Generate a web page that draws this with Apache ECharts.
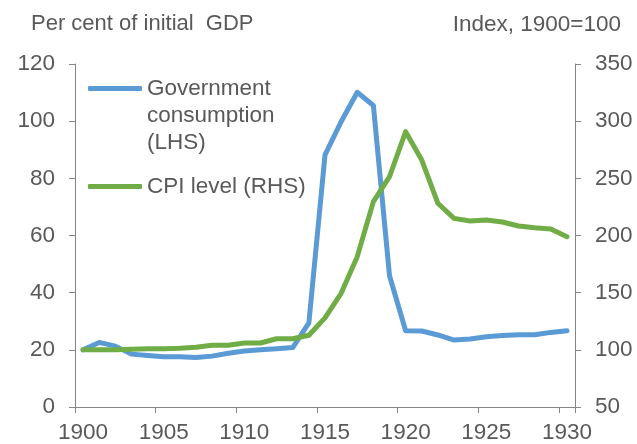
<!DOCTYPE html>
<html>
<head>
<meta charset="utf-8">
<script src="https://cdn.jsdelivr.net/npm/echarts@6/dist/echarts.min.js"></script>
<style>
  html, body { margin: 0; padding: 0; background: #fff; }
  #chart { width: 637px; height: 444px; }
</style>
</head>
<body>
<div id="chart"></div>
<script>
const years = ["1900", "1901", "1902", "1903", "1904", "1905", "1906", "1907", "1908", "1909",
  "1910", "1911", "1912", "1913", "1914", "1915", "1916", "1917", "1918", "1919",
  "1920", "1921", "1922", "1923", "1924", "1925", "1926", "1927", "1928", "1929", "1930"];

// per cent of initial GDP (LHS)
const govConsumption = [20, 22.6, 21.3, 18.5, 18, 17.6, 17.6, 17.3, 17.8, 18.8,
  19.6, 20, 20.4, 20.8, 29.4, 88.2, 99.8, 110.1, 105.5, 45.9,
  26.7, 26.6, 25.2, 23.4, 23.8, 24.6, 25, 25.3, 25.3, 26.1, 26.7];

// index, 1900=100 (RHS)
const cpiLevel = [100, 100, 100, 100.5, 101, 101, 101.3, 102.2, 104, 104,
  106, 106, 109.7, 109.7, 112.7, 128, 149.4, 181.5, 229.6, 251.4,
  290.8, 266, 228.2, 215, 212.7, 213.5, 211.8, 208.3, 206.8, 205.7, 199];

const chart = echarts.init(document.getElementById("chart"));

const font = "Liberation Sans";
const textColor = "#595959";
const axisColor = "#868686";
const fontSize = 22.5;

const axisCommon = {
  axisLine: { show: true, lineStyle: { color: axisColor, width: 1 } },
  axisTick: { show: true, length: 6, lineStyle: { color: axisColor } },
  splitLine: { show: false },
  axisLabel: { color: textColor, fontSize: fontSize, fontFamily: font },
};

chart.setOption({
  animation: false,
  textStyle: { fontFamily: font },
  title: [
    {
      text: "Per cent of initial  GDP",
      left: 31,
      top: 13,
      padding: 0,
      textStyle: { color: textColor, fontSize: 22, fontWeight: "normal", fontFamily: font },
    },
    {
      text: "Index, 1900=100",
      right: 16,
      top: 13,
      padding: 0,
      textStyle: { color: textColor, fontSize: fontSize, fontWeight: "normal", fontFamily: font },
    },
  ],
  grid: { left: 75, right: 62, top: 64, bottom: 36 },
  legend: {
    orient: "vertical",
    left: 83,
    top: 16,
    padding: 5,
    icon: "roundRect",
    itemWidth: 54,
    itemHeight: 5,
    itemGap: 17,
    textStyle: { color: textColor, fontSize: fontSize, fontFamily: font, lineHeight: 27 },
    // two blank lines first so that the first text line sits level with the icon
    formatter: function (name) {
      return name === "Government consumption (LHS)" ? "\n\nGovernment\nconsumption\n(LHS)" : name;
    },
    data: ["Government consumption (LHS)", "CPI level (RHS)"],
  },
  xAxis: {
    type: "category",
    data: years,
    boundaryGap: true,
    ...axisCommon,
    axisTick: { show: true, length: 6, interval: 4, lineStyle: { color: axisColor } },
    axisLabel: { ...axisCommon.axisLabel, interval: 4, margin: 14 },
  },
  yAxis: [
    {
      type: "value",
      min: 0,
      max: 120,
      interval: 20,
      ...axisCommon,
      axisLabel: { ...axisCommon.axisLabel, margin: 20 },
    },
    {
      type: "value",
      min: 50,
      max: 350,
      interval: 50,
      position: "right",
      ...axisCommon,
      axisLabel: { ...axisCommon.axisLabel, margin: 20 },
    },
  ],
  series: [
    {
      name: "Government consumption (LHS)",
      type: "line",
      yAxisIndex: 0,
      data: govConsumption,
      showSymbol: false,
      color: "#5B9BD5",
      lineStyle: { width: 5, cap: "round", join: "round" },
    },
    {
      name: "CPI level (RHS)",
      type: "line",
      yAxisIndex: 1,
      data: cpiLevel,
      showSymbol: false,
      color: "#70AD47",
      lineStyle: { width: 5, cap: "round", join: "round" },
    },
  ],
});

window.addEventListener("resize", () => {
  chart.resize();
});
</script>
</body>
</html>
